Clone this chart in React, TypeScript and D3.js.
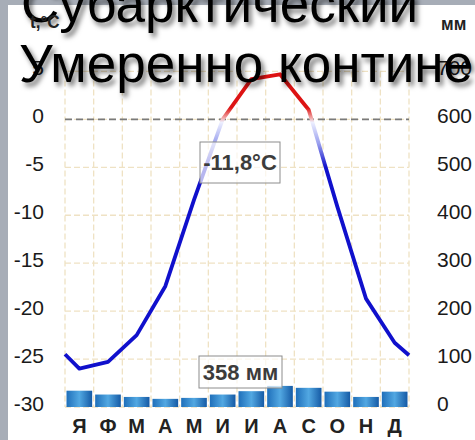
import React from "react";
import * as d3 from "d3";

const months = ["Я", "Ф", "М", "А", "М", "И", "И", "А", "С", "О", "Н", "Д"];
const temps = [-26.0, -25.3, -22.5, -17.4, -8.4, 0.0, 4.2, 4.7, 1.0, -9.1, -18.7, -23.3];
const edgeTemps = [-24.5, -24.6];
const precip = [34, 26, 21, 17, 19, 26, 33, 44, 40, 32, 21, 32];
const tempTicks = [5, 0, -5, -10, -15, -20, -25, -30];
const precipTicks = [700, 600, 500, 400, 300, 200, 100, 0];
const meanTempLabel = "-11,8°C";
const totalPrecipLabel = "358 мм";
const titleLines = ["Субарктический", "Умеренно континентальный"];

const W = 475;
const H = 440;
const X0 = 65;
const X1 = 409;
const YB = 407;
const YT = 71.4;
const FONT = "'Liberation Sans', Arial, sans-serif";

export default function App() {
  const x = d3.scaleBand<number>().domain(d3.range(12)).range([X0, X1]).padding(0);
  const yT = d3.scaleLinear().domain([-30, 5]).range([YB, YT]);
  const yP = d3.scaleLinear().domain([0, 700]).range([YB, YT]);
  const bw = x.bandwidth();
  const cx = (i: number) => (x(i) as number) + bw / 2;

  const pts: [number, number][] = [
    [X0, yT(edgeTemps[0])],
    ...temps.map((t, i) => [cx(i), yT(t)] as [number, number]),
    [X1, yT(edgeTemps[1])],
  ];
  const line = d3.line<[number, number]>().x((d) => d[0]).y((d) => d[1]);
  const off = (t: number) => (yT(t) - YT) / (YB - YT);

  const gridH = d3.range(-30, 6, 5);
  const gridV = d3.range(13).map((i) => X0 + i * bw);

  return (
    <svg width={W} height={H} style={{ position: "absolute", left: 0, top: 0 }} fontFamily={FONT}>
      <defs>
        <linearGradient id="lineGrad" gradientUnits="userSpaceOnUse" x1={0} y1={YT} x2={0} y2={YB}>
          <stop offset={0} stopColor="#dd1111" />
          <stop offset={off(1.2)} stopColor="#dd1414" />
          <stop offset={off(0.1)} stopColor="#f2b0b0" />
          <stop offset={off(-0.3)} stopColor="#eef0ff" />
          <stop offset={off(-2.5)} stopColor="#9aa0ee" />
          <stop offset={off(-5)} stopColor="#1010cc" />
          <stop offset={1} stopColor="#1010cc" />
        </linearGradient>
        <linearGradient id="barGrad" x1="0" y1="0" x2="1" y2="0">
          <stop offset="0" stopColor="#1f6fba" />
          <stop offset="0.5" stopColor="#52a8e2" />
          <stop offset="1" stopColor="#155aa5" />
        </linearGradient>
        <filter id="shadow" x="-10%" y="-30%" width="130%" height="180%">
          <feDropShadow dx="3" dy="4" stdDeviation="2.5" floodColor="#000" floodOpacity="0.55" />
        </filter>
      </defs>

      <rect x={0} y={0} width={W} height={H} fill="#a7adb7" />
      <rect x={8} y={5} width={W - 8} height={H - 5} fill="#ffffff" />

      {/* grid */}
      {gridH.map((v) => (
        <line key={"h" + v} x1={X0} x2={X1} y1={yT(v)} y2={yT(v)} stroke="#efe2c4" strokeWidth={1.3} strokeDasharray="6 3" />
      ))}
      {gridV.map((gx, i) => (
        <line key={"v" + i} x1={gx} x2={gx} y1={YT} y2={YB} stroke="#efe2c4" strokeWidth={1.3} strokeDasharray="6 3" />
      ))}

      {/* bars */}
      {precip.map((p, i) => (
        <rect key={"b" + i} x={(x(i) as number) + 1.5} width={bw - 3} y={yP(p)} height={yP(0) - yP(p)} fill="url(#barGrad)" />
      ))}

      {/* zero line */}
      <line x1={X0} x2={X1} y1={yT(0)} y2={yT(0)} stroke="#7a7a7a" strokeWidth={1.8} strokeDasharray="7 4" />

      {/* temperature line */}
      <path d={line(pts) || ""} fill="none" stroke="url(#lineGrad)" strokeWidth={3.8} strokeLinejoin="round" />

      {/* value boxes */}
      <rect x={200} y={142} width={80} height={41} fill="#ffffff" fillOpacity={0.7} stroke="#8c8c8c" strokeWidth={1} />
      <text x={240} y={170} textAnchor="middle" fontSize={22} fontWeight="bold" fill="#3c3c3c">{meanTempLabel}</text>
      <rect x={199} y={356} width={83} height={32} fill="#ffffff" fillOpacity={0.7} stroke="#8c8c8c" strokeWidth={1} />
      <text x={240.5} y={380} textAnchor="middle" fontSize={22} fontWeight="bold" fill="#3c3c3c">{totalPrecipLabel}</text>

      {/* axis tick labels */}
      {tempTicks.map((v) => (
        <text key={"lt" + v} x={44} y={yT(v) + 4} textAnchor="end" fontSize={21} fill="#1a1a1a">{v}</text>
      ))}
      {precipTicks.map((v) => (
        <text key={"rt" + v} x={437} y={yP(v) + 4} textAnchor="start" fontSize={21} fill="#1a1a1a">{v}</text>
      ))}
      {months.map((m, i) => (
        <text key={"m" + i} x={cx(i)} y={433} textAnchor="middle" fontSize={20} fontWeight="bold" fill="#222">{m}</text>
      ))}

      {/* titles */}
      <g filter="url(#shadow)">
        <text x={21} y={22} fontSize={53} fill="#000">{titleLines[0]}</text>
        <text x={19} y={82} fontSize={53} fill="#000">{titleLines[1]}</text>
      </g>

      <text transform="translate(30,28) scale(0.9,1)" fontSize={19} fontWeight="bold" fill="#222">t,°C</text>
      <text transform="translate(441,30) scale(0.9,1)" fontSize={19} fontWeight="bold" fill="#222">мм</text>
    </svg>
  );
}
